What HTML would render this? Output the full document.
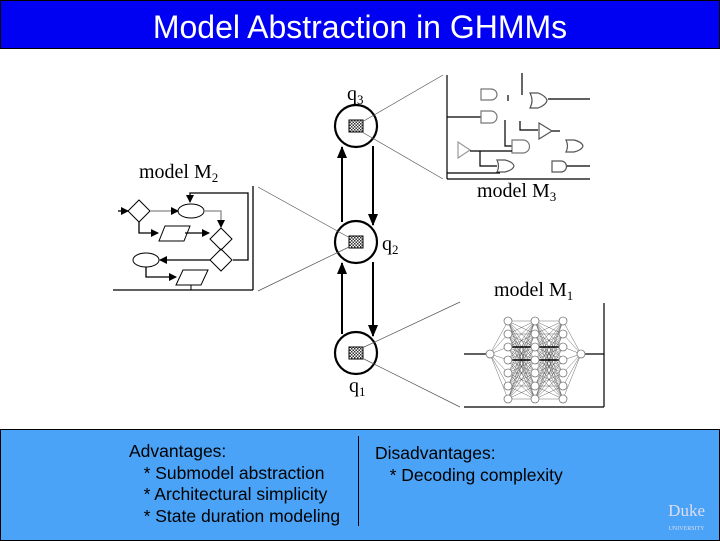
<!DOCTYPE html>
<html><head><meta charset="utf-8"><style>
html,body{margin:0;padding:0;background:#fff;}
body{width:720px;height:540px;position:relative;overflow:hidden;font-family:"Liberation Sans",sans-serif;}
#title{position:absolute;left:0;top:0;width:718px;height:47px;background:#0000f2;border:1px solid #000;color:#fff;font-size:32px;text-align:center;line-height:52px;}
#bottom{position:absolute;left:0;top:429px;width:718px;height:110px;background:#4aa3f7;border:1px solid #000;}
.t{position:absolute;font-size:17.5px;color:#000;line-height:21.5px;white-space:pre;}
svg{position:absolute;left:0;top:0;}
</style></head><body>
<div id="title">Model Abstraction in GHMMs</div>
<svg id="s" width="720" height="430" viewBox="0 0 720 430" font-family="Liberation Serif, serif">
<defs>
<pattern id="h" width="3" height="3" patternUnits="userSpaceOnUse"><rect width="3" height="3" fill="#fff"/><rect width="1.5" height="1.5" fill="#333"/><rect x="1.5" y="1.5" width="1.5" height="1.5" fill="#333"/></pattern>
<marker id="a" markerWidth="8" markerHeight="8" refX="7" refY="4" orient="auto" markerUnits="userSpaceOnUse"><path d="M0,0L8,4L0,8z" fill="#000"/></marker>
<marker id="b" markerWidth="12" markerHeight="12" refX="11" refY="5" orient="auto" markerUnits="userSpaceOnUse"><path d="M0,0L12,5L0,10z" fill="#000"/></marker>
</defs>
<g stroke="#000" fill="none">
<circle cx="356" cy="126" r="21" stroke-width="2.2"/>
<circle cx="356" cy="242" r="21" stroke-width="2.2"/>
<circle cx="356" cy="353" r="21" stroke-width="2.2"/>
<rect x="349" y="120" width="14" height="12" fill="url(#h)" stroke-width="1"/>
<rect x="349" y="236" width="14" height="12" fill="url(#h)" stroke-width="1"/>
<rect x="349" y="347" width="14" height="12" fill="url(#h)" stroke-width="1"/>
<line x1="342" y1="222" x2="342" y2="147" stroke-width="2" marker-end="url(#b)"/>
<line x1="373" y1="146" x2="373" y2="225" stroke-width="2" marker-end="url(#b)"/>
<line x1="342" y1="334" x2="342" y2="263" stroke-width="2" marker-end="url(#b)"/>
<line x1="373" y1="262" x2="373" y2="336" stroke-width="2" marker-end="url(#b)"/>
<g stroke-width="0.7" stroke="#555">
<line x1="443" y1="75" x2="362" y2="122"/><line x1="443" y1="179" x2="362" y2="132"/>
<line x1="258" y1="187" x2="350" y2="238"/><line x1="258" y1="291" x2="349" y2="247"/>
<line x1="460" y1="302" x2="362" y2="348"/><line x1="460" y1="407" x2="362" y2="358"/>
</g>
<g stroke-width="1.3">
<line x1="253" y1="186" x2="253" y2="290"/><line x1="113" y1="290" x2="253" y2="290"/>
<polyline points="233,260 248,260 248,193 190,193 190,202" marker-end="url(#a)"/>
<polygon points="139,200 150,211 139,222 128,211" stroke-width="1"/>
<line x1="118" y1="211" x2="128" y2="211" marker-end="url(#a)"/>
<line x1="150" y1="211" x2="178" y2="211" stroke="#888" marker-end="url(#a)"/>
<ellipse cx="191" cy="211" rx="13" ry="7" stroke-width="1"/>
<polyline points="204,211 221,211 221,227" stroke="#888" marker-end="url(#a)"/>
<polygon points="221,228 232,239 221,250 210,239" stroke-width="1"/>
<polygon points="221,249 232,260 221,271 210,260" stroke-width="1"/>
<polyline points="139,222 139,233 158,233" marker-end="url(#a)"/>
<polygon points="165,226 190,226 184,241 159,241" stroke-width="1"/>
<line x1="185" y1="233" x2="209" y2="233" marker-end="url(#a)"/>
<line x1="210" y1="260" x2="160" y2="260" marker-end="url(#a)"/>
<ellipse cx="146" cy="260" rx="13" ry="7" stroke-width="1"/>
<polyline points="146,267 146,277 176,277" marker-end="url(#a)"/>
<polygon points="183,270 208,270 201,285 176,285" stroke-width="1"/>
<line x1="191" y1="285" x2="191" y2="290" stroke-width="1"/>
</g>
<g stroke-width="1.2">
<line x1="447" y1="75" x2="447" y2="179"/><line x1="447" y1="179" x2="590" y2="179"/>
<path d="M481,89h10a6,5.5 0 0 1 0,11h-10z" stroke="#777"/>
<line x1="508" y1="95" x2="508" y2="101"/><line x1="522" y1="73" x2="522" y2="95"/>
<path d="M530,93h8q8,3 9,7.5q-1,4.5 -9,7.5h-8q4,-7.5 0,-15z" stroke="#555"/>
<line x1="548" y1="99" x2="590" y2="99"/>
<line x1="447" y1="117" x2="481" y2="117"/>
<path d="M481,111h10a6,6 0 0 1 0,12h-10z" stroke="#777"/>
<polyline points="505,120 505,146 512,146"/>
<path d="M512,140h11a6.5,6.5 0 0 1 0,13h-11z" stroke="#777"/>
<polyline points="520,121 520,130 538,130"/>
<polygon points="539,123 552,131 539,139" stroke="#555"/>
<line x1="552" y1="131" x2="560" y2="131"/>
<path d="M566,140h8q8,2 9,6q-1,4 -9,6h-8q3,-6 0,-12z" stroke="#555"/>
<polygon points="458,142 470,150 458,158" stroke="#999"/>
<line x1="470" y1="151" x2="512" y2="151"/>
<polyline points="480,151 480,166 497,166"/>
<path d="M497,160h8q8,2 9,6q-1,4 -9,6h-8q3,-6 0,-12z" stroke="#555"/>
<line x1="447" y1="173" x2="500" y2="173"/>
<path d="M552,161h9a5.5,5.5 0 0 1 0,11h-9z" stroke="#555"/>
<line x1="567" y1="166" x2="590" y2="166"/>
</g>
<g stroke-width="1.2">
<line x1="604" y1="303" x2="604" y2="407"/><line x1="464" y1="407" x2="604" y2="407"/>
<line x1="464" y1="354" x2="487" y2="354"/><line x1="585" y1="354" x2="604" y2="354"/>
</g>
<g id="nn" stroke-width="0.4" stroke="#444"></g>
</g>
<g font-size="20" fill="#000">
<text x="347" y="100">q<tspan font-size="13" dy="4">3</tspan></text>
<text x="382" y="250">q<tspan font-size="13" dy="4">2</tspan></text>
<text x="349" y="392">q<tspan font-size="13" dy="4">1</tspan></text>
<text x="139" y="178">model M<tspan font-size="13" dy="4">2</tspan></text>
<text x="477" y="197">model M<tspan font-size="13" dy="4">3</tspan></text>
<text x="494" y="296">model M<tspan font-size="13" dy="4">1</tspan></text>
</g>
</svg>
<script>
(function(){
var g=document.getElementById('nn'),s='';
var xs=[508,535,563],ys=[321,334,347,360,373,386,399];
function L(a,b,c,d){s+='<line x1="'+a+'" y1="'+b+'" x2="'+c+'" y2="'+d+'"/>';}
ys.forEach(function(y){L(490,354,508,y);L(563,y,581,354);});
for(var k=0;k<2;k++)ys.forEach(function(y1){ys.forEach(function(y2){L(xs[k],y1,xs[k+1],y2);});});
s+='<line x1="508" y1="347" x2="563" y2="347" stroke-width="1.5" stroke="#000"/><line x1="508" y1="360" x2="563" y2="360" stroke-width="1.5" stroke="#000"/>';
function C(x,y){s+='<circle cx="'+x+'" cy="'+y+'" r="4" fill="#fff" stroke="#777" stroke-width="0.8"/>';}
C(490,354);C(581,354);xs.forEach(function(x){ys.forEach(function(y){C(x,y);});});
g.innerHTML=s;
})();
</script>
<div id="bottom">
<div style="position:absolute;left:357px;top:6px;width:1px;height:90px;background:#000;"></div>
<div style="position:absolute;right:14px;bottom:4px;font-family:'Liberation Serif',serif;font-size:17px;color:#dde;line-height:14px;text-align:center;">Duke<br><span style="font-size:6px;">UNIVERSITY</span></div>
</div>
<div class="t" style="left:129px;top:441px;">Advantages:
   * Submodel abstraction
   * Architectural simplicity
   * State duration modeling</div>
<div class="t" style="left:375px;top:443px;">Disadvantages:
   * Decoding complexity</div>
</body></html>
